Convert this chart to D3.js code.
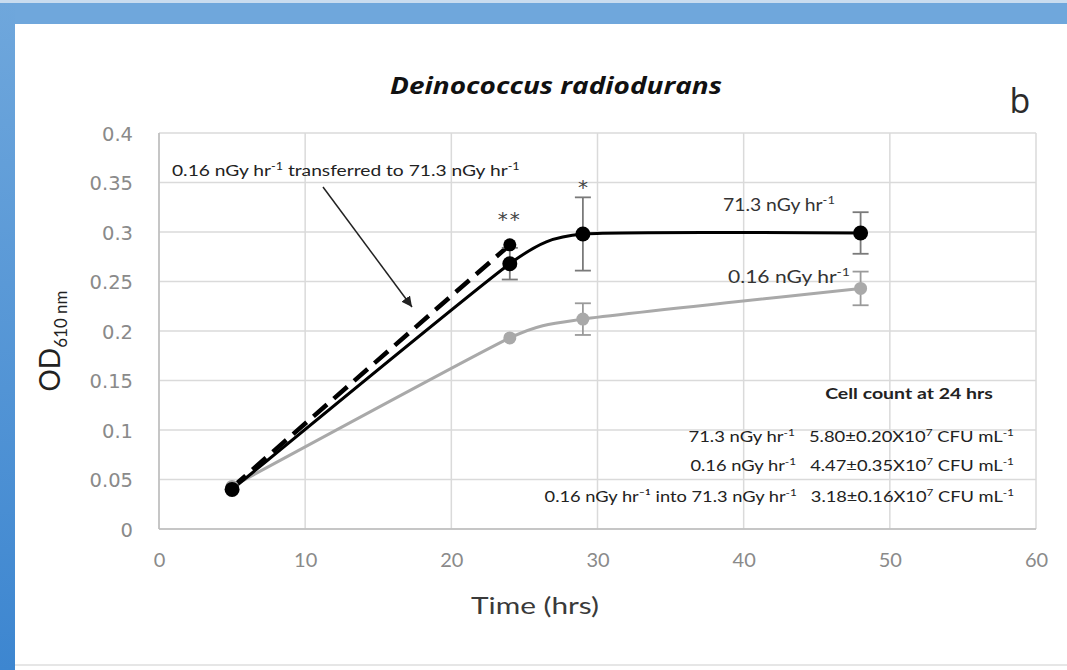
<!DOCTYPE html>
<html><head><meta charset="utf-8">
<script src="https://cdn.jsdelivr.net/npm/d3@7"></script>
<style>
html,body{margin:0;padding:0;background:#fff;}
svg{display:block;}
</style></head>
<body>
<svg id="chart" width="1067" height="670"></svg>
<script>
// ---- data ----
const timeHrs = [5, 24, 29, 48];
const od713 = [0.040, 0.268, 0.298, 0.299];
const err713 = [0.002, 0.016, 0.037, 0.021];
const od016 = [0.043, 0.193, 0.212, 0.243];
const err016 = [0.002, 0.003, 0.016, 0.017];
const transferTime = [5, 24];
const transferOD = [0.042, 0.287];
const xTicks = [0, 10, 20, 30, 40, 50, 60];
const yTicks = [0, 0.05, 0.1, 0.15, 0.2, 0.25, 0.3, 0.35, 0.4];
const yTickLabels = ["0", "0.05", "0.1", "0.15", "0.2", "0.25", "0.3", "0.35", "0.4"];
const cellCountRows = [
  ["71.3 nGy hr", "5.80±0.20X10", "7"],
  ["0.16 nGy hr", "4.47±0.35X10", "7"],
  ["0.16 nGy hr⁻¹ into 71.3 nGy hr", "3.18±0.16X10", "7"]
];

const svg = d3.select("#chart");
const W = 1067, H = 670;

function fitWidth(sel, anchorX, target){
  const w = sel.node().getBBox().width;
  const s = target / w;
  sel.attr("transform", `translate(${anchorX},0) scale(${s},1) translate(${-anchorX},0)`);
}

// frame decoration
const defs = svg.append("defs");
const lg = defs.append("linearGradient").attr("id","lstrip").attr("x1",0).attr("y1",0).attr("x2",0).attr("y2",1);
lg.append("stop").attr("offset","0").attr("stop-color","#6fa7dc");
lg.append("stop").attr("offset","1").attr("stop-color","#3d86d0");
svg.append("rect").attr("x",0).attr("y",0).attr("width",W).attr("height",3).attr("fill","#c9dcef");
svg.append("rect").attr("x",0).attr("y",3).attr("width",W).attr("height",21).attr("fill","#6fa7dc");
svg.append("rect").attr("x",0).attr("y",3).attr("width",15).attr("height",H-3).attr("fill","url(#lstrip)");
svg.append("line").attr("x1",15).attr("x2",W).attr("y1",665).attr("y2",665).attr("stroke","#e6e6e6").attr("stroke-width",2);

const x = d3.scaleLinear().domain([0,60]).range([159,1036]);
const y = d3.scaleLinear().domain([0,0.4]).range([529,133]);

// gridlines
const grid = svg.append("g");
grid.selectAll(".hg").data(yTicks).join("line")
  .attr("x1",x(0)).attr("x2",x(60)).attr("y1",d=>y(d)).attr("y2",d=>y(d))
  .attr("stroke","#dadada").attr("stroke-width",1.5);
grid.selectAll(".vg").data(xTicks).join("line")
  .attr("y1",y(0)).attr("y2",y(0.4)).attr("x1",d=>x(d)).attr("x2",d=>x(d))
  .attr("stroke","#dadada").attr("stroke-width",1.5);
svg.append("line").attr("x1",x(0)).attr("x2",x(0)).attr("y1",y(0)).attr("y2",y(0.4)).attr("stroke","#bdbdbd").attr("stroke-width",1.5);
svg.append("line").attr("x1",x(0)).attr("x2",x(60)).attr("y1",y(0)).attr("y2",y(0)).attr("stroke","#bdbdbd").attr("stroke-width",1.5);

// axes tick labels
const yAxis = d3.axisLeft(y).tickValues(yTicks).tickFormat((d,i)=>yTickLabels[i]).tickSize(0).tickPadding(0);
const gy = svg.append("g").attr("transform","translate(133,0)").call(yAxis);
gy.select(".domain").remove();
gy.selectAll("text").attr("font-family","DejaVu Sans").attr("font-size",19.5).attr("fill","#8a8a8a").attr("dy","0.36em");

const xAxis = d3.axisBottom(x).tickValues(xTicks).tickSize(0).tickPadding(0);
const gx = svg.append("g").attr("transform","translate(0,553)").call(xAxis);
gx.select(".domain").remove();
gx.selectAll("text").attr("font-family","Lato").attr("font-size",20).attr("fill","#8a8a8a").attr("dy","0.71em");

// axis titles
const xt = svg.append("text").attr("x",535).attr("y",614).attr("text-anchor","middle")
  .attr("font-family","Lato").attr("font-size",24).attr("fill","#3a3a3a").text("Time (hrs)");
fitWidth(xt, 535, 128);
const yt = svg.append("text").attr("transform","translate(60,341) rotate(-90)").attr("text-anchor","middle")
  .attr("font-family","Lato").attr("font-size",28).attr("fill","#222");
yt.append("tspan").text("OD");
yt.append("tspan").attr("font-size",17).attr("dy",7).text("610 nm");

// title
const title = svg.append("text").attr("x",556).attr("y",94).attr("text-anchor","middle")
  .attr("font-family","Open Sans").attr("font-weight","bold").attr("font-style","italic")
  .attr("font-size",24).attr("fill","#111").text("Deinococcus radiodurans");
fitWidth(title, 556, 332);
svg.append("text").attr("x",1020).attr("y",113).attr("text-anchor","middle")
  .attr("font-family","Open Sans").attr("font-size",34).attr("fill","#2b2b2b").text("b");

// lines
const pts713 = timeHrs.map((t,i)=>[t,od713[i]]);
const pts016 = timeHrs.map((t,i)=>[t,od016[i]]);
const ptsTr = transferTime.map((t,i)=>[t,transferOD[i]]);
const line = d3.line().x(d=>x(d[0])).y(d=>y(d[1])).curve(d3.curveCardinal.tension(0.5));

svg.append("path").attr("d",line(pts016)).attr("fill","none").attr("stroke","#a9a9a9").attr("stroke-width",3);
svg.append("path").attr("d",line(pts713)).attr("fill","none").attr("stroke","#000").attr("stroke-width",3);
svg.append("path").attr("d",d3.line().x(d=>x(d[0])).y(d=>y(d[1]))(ptsTr)).attr("fill","none")
  .attr("stroke","#000").attr("stroke-width",4.5).attr("stroke-dasharray","18,9");

// error bars
function errBars(vals, errs, color){
  const g = svg.append("g").attr("stroke",color).attr("stroke-width",1.8);
  timeHrs.forEach((t,i)=>{
    if(errs[i] < 0.004) return;
    const cx = x(t), y1 = y(vals[i]-errs[i]), y2 = y(vals[i]+errs[i]);
    g.append("line").attr("x1",cx).attr("x2",cx).attr("y1",y1).attr("y2",y2);
    g.append("line").attr("x1",cx-8).attr("x2",cx+8).attr("y1",y1).attr("y2",y1);
    g.append("line").attr("x1",cx-8).attr("x2",cx+8).attr("y1",y2).attr("y2",y2);
  });
}
errBars(od016, err016, "#9a9a9a");
errBars(od713, err713, "#7a7a7a");

// markers
svg.selectAll(".m016").data(pts016).join("circle").attr("cx",d=>x(d[0])).attr("cy",d=>y(d[1])).attr("r",6.5).attr("fill","#a9a9a9");
svg.selectAll(".m713").data(pts713).join("circle").attr("cx",d=>x(d[0])).attr("cy",d=>y(d[1])).attr("r",7.5).attr("fill","#000");
svg.append("circle").attr("cx",x(ptsTr[1][0])).attr("cy",y(ptsTr[1][1])).attr("r",6.5).attr("fill","#000");

// significance stars
svg.append("text").attr("x",x(24)).attr("y",226).attr("text-anchor","middle").attr("font-family","DejaVu Sans")
  .attr("font-size",20).attr("fill","#444").attr("letter-spacing",2).text("**");
svg.append("text").attr("x",x(29)).attr("y",194).attr("text-anchor","middle").attr("font-family","DejaVu Sans")
  .attr("font-size",20).attr("fill","#444").text("*");

// series labels
function supLabel(xp, yp, base, s, size, subSize, target){
  const t = svg.append("text").attr("x",xp).attr("y",yp).attr("font-family","Lato").attr("font-size",size).attr("fill","#333");
  t.append("tspan").text(base);
  t.append("tspan").attr("font-size",subSize).attr("dy",-7).text(s);
  fitWidth(t, xp, target);
  return t;
}
supLabel(723, 211, "71.3  nGy hr", "-1", 18, 12, 112);
supLabel(728, 283, "0.16  nGy hr", "-1", 18, 12, 122);

// transfer annotation
const ann = svg.append("text").attr("x",172).attr("y",176).attr("font-family","Lato").attr("font-size",16).attr("fill","#222");
ann.append("tspan").text("0.16 nGy hr");
ann.append("tspan").attr("font-size",10.5).attr("dy",-6).text("-1");
ann.append("tspan").attr("dy",6).text(" transferred to 71.3 nGy hr");
ann.append("tspan").attr("font-size",10.5).attr("dy",-6).text("-1");
fitWidth(ann, 172, 348);

defs.append("marker").attr("id","arrow").attr("viewBox","0 0 10 10").attr("refX",10).attr("refY",5)
  .attr("markerWidth",7).attr("markerHeight",7).attr("orient","auto")
  .append("path").attr("d","M0,0 L10,5 L0,10 Z").attr("fill","#222");
svg.append("line").attr("x1",323).attr("y1",187).attr("x2",412).attr("y2",307)
  .attr("stroke","#222").attr("stroke-width",1.5).attr("marker-end","url(#arrow)");

// cell count block
const cct = svg.append("text").attr("x",909).attr("y",399).attr("text-anchor","middle").attr("font-family","Lato")
  .attr("font-weight","bold").attr("font-size",15.5).attr("fill","#222").text("Cell count at 24 hrs");
fitWidth(cct, 909, 168);
const rowY = [442, 471, 502];
const rowW = [326, 324, 470];
cellCountRows.forEach((r,i)=>{
  const t = svg.append("text").attr("x",1014).attr("y",rowY[i]).attr("text-anchor","end")
    .attr("font-family","Lato").attr("font-size",15.5).attr("fill","#222");
  t.append("tspan").text(r[0]);
  t.append("tspan").attr("font-size",10).attr("dy",-6).text("-1");
  t.append("tspan").attr("dy",6).text("\u00a0\u00a0 " + r[1]);
  t.append("tspan").attr("font-size",10).attr("dy",-6).text(r[2]);
  t.append("tspan").attr("dy",6).text(" CFU mL");
  t.append("tspan").attr("font-size",10).attr("dy",-6).text("-1");
  fitWidth(t, 1014, rowW[i]);
});
</script>
</body></html>
